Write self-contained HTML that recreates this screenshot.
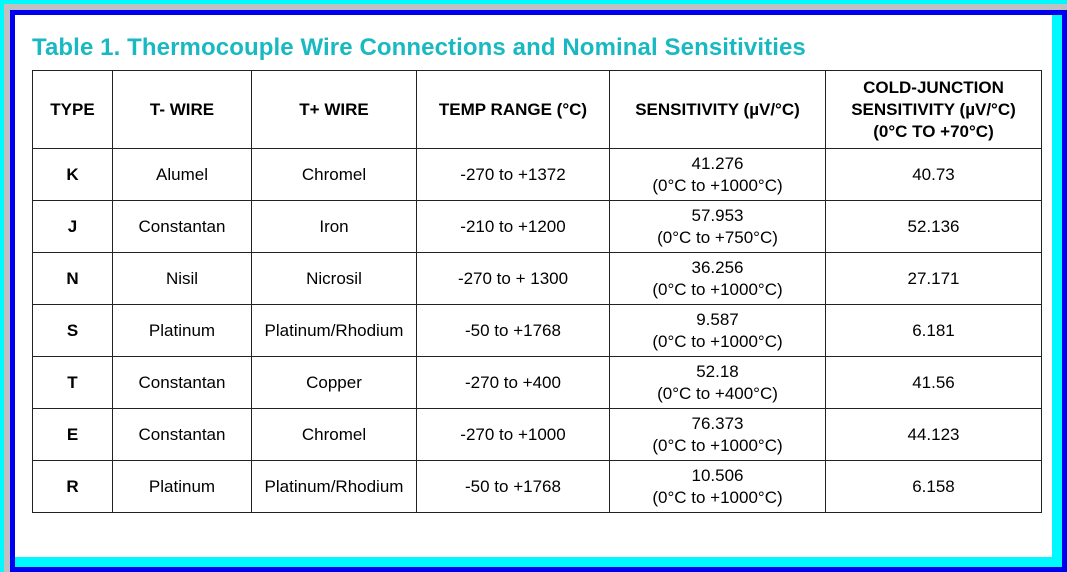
<!DOCTYPE html>
<html><head><style>
body{margin:0;width:1067px;height:572px;overflow:hidden;background:#0000f0;position:relative;font-family:"Liberation Sans",Arial,sans-serif}
.a{position:absolute}
table{border-collapse:collapse;position:absolute;left:32px;top:70px;width:1009px;table-layout:fixed}
td,th{border:1px solid #222;text-align:center;font-size:17px;color:#000;padding:0;line-height:22px}
th{font-weight:bold;height:77px}
td{height:51px}
td:first-child{font-weight:bold}
</style></head><body>
<div class="a" style="left:0;top:0;width:1067px;height:572px;background:#00f8ff"></div>
<div class="a" style="left:4px;top:4px;width:1063px;height:568px;background:#c0c0c0"></div>
<div class="a" style="left:10px;top:10px;width:1057px;height:562px;background:#0000f0"></div>
<div class="a" style="left:15px;top:15px;width:1047px;height:552px;background:#00f8ff"></div>
<div class="a" style="left:15px;top:15px;width:1037px;height:542px;background:#fff"></div>
<div class="a" style="left:32px;top:34px;font-size:24px;font-weight:bold;color:#19b9c2;letter-spacing:0.1px">Table 1. Thermocouple Wire Connections and Nominal Sensitivities</div>
<table>
<colgroup><col style="width:80px"><col style="width:139px"><col style="width:165px"><col style="width:193px"><col style="width:216px"><col style="width:216px"></colgroup>
<tr><th>TYPE</th><th>T- WIRE</th><th>T+ WIRE</th><th>TEMP RANGE (°C)</th><th>SENSITIVITY (µV/°C)</th><th>COLD-JUNCTION<br>SENSITIVITY (µV/°C)<br>(0°C TO +70°C)</th></tr>
<tr><td>K</td><td>Alumel</td><td>Chromel</td><td>-270 to +1372</td><td>41.276<br>(0°C to +1000°C)</td><td>40.73</td></tr>
<tr><td>J</td><td>Constantan</td><td>Iron</td><td>-210 to +1200</td><td>57.953<br>(0°C to +750°C)</td><td>52.136</td></tr>
<tr><td>N</td><td>Nisil</td><td>Nicrosil</td><td>-270 to + 1300</td><td>36.256<br>(0°C to +1000°C)</td><td>27.171</td></tr>
<tr><td>S</td><td>Platinum</td><td>Platinum/Rhodium</td><td>-50 to +1768</td><td>9.587<br>(0°C to +1000°C)</td><td>6.181</td></tr>
<tr><td>T</td><td>Constantan</td><td>Copper</td><td>-270 to +400</td><td>52.18<br>(0°C to +400°C)</td><td>41.56</td></tr>
<tr><td>E</td><td>Constantan</td><td>Chromel</td><td>-270 to +1000</td><td>76.373<br>(0°C to +1000°C)</td><td>44.123</td></tr>
<tr><td>R</td><td>Platinum</td><td>Platinum/Rhodium</td><td>-50 to +1768</td><td>10.506<br>(0°C to +1000°C)</td><td>6.158</td></tr>
</table>
</body></html>
